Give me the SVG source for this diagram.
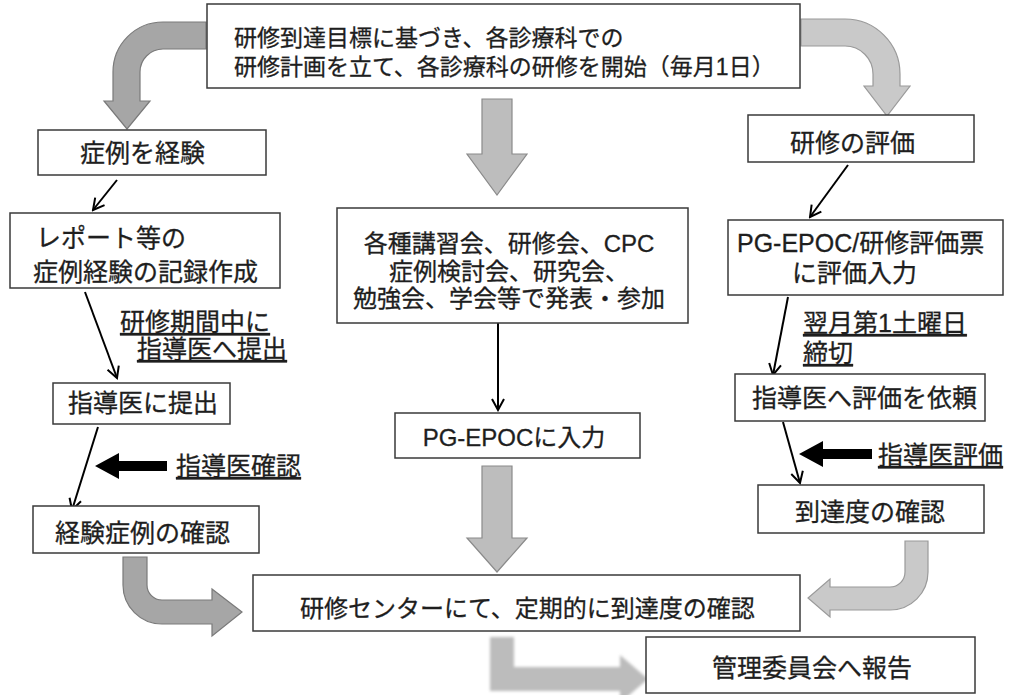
<svg xmlns="http://www.w3.org/2000/svg" width="1009" height="695" viewBox="0 0 1009 695">
<defs>
<style>
.box{fill:#fff;stroke:#3a3a3a;stroke-width:1.5}
.t{font-family:"Liberation Sans","Noto Sans CJK JP",sans-serif;fill:#1e1e1e;stroke:#1e1e1e;stroke-width:0.3}
.t23{font-size:23px}
.t24{font-size:24px}
.t25{font-size:25px}
.u{text-decoration:underline}
.line{fill:none;stroke:#000;stroke-width:2;marker-end:url(#open)}
.dark{fill:#a6a6a6;stroke:#7a7a7a;stroke-width:1.2}
.light{fill:#c9c9c9;stroke:#9a9a9a;stroke-width:1.2}
.mid{fill:#bdbdbd;stroke:#8a8a8a;stroke-width:1.2}
.black{fill:#000}
</style>
<marker id="open" viewBox="-13 -8 15 16" refX="0" refY="0" markerWidth="15" markerHeight="16" markerUnits="userSpaceOnUse" orient="auto">
<path d="M -11 -6 L 0 0 L -11 6" fill="none" stroke="#000" stroke-width="2"/>
</marker>
<filter id="soft" x="-10%" y="-10%" width="120%" height="120%">
<feGaussianBlur stdDeviation="1.6"/>
</filter>
</defs>

<g id="connectors">
<g id="block-arrows">
<path class="dark" d="M 206 22 H 163 A 50 50 0 0 0 113 72 V 101 H 104 L 127 129 L 150 101 H 140 V 72 A 23 23 0 0 1 163 49 H 206 Z"/>
<path class="light" d="M 801 19 H 845 A 55 55 0 0 1 900 74 V 86 H 910 L 887 116 L 864 86 H 873 V 74 A 28 28 0 0 0 845 46 H 801 Z"/>
<path class="mid" d="M 482 99 H 512 V 154 H 527 L 497 195 L 467 154 H 482 Z"/>
<path class="mid" d="M 482 466 H 512 V 538 H 527 L 497 572 L 467 538 H 482 Z"/>
<path class="dark" d="M 123 557 H 147 V 585 A 15 15 0 0 0 162 600 H 212 V 589 L 242 612 L 212 636 V 624 H 162 A 39 39 0 0 1 123 585 Z"/>
<path class="light" d="M 905 541 H 928 V 572 A 38 38 0 0 1 890 610 H 830 V 617 L 808 598 L 830 579 V 587 H 890 A 15 15 0 0 0 905 572 Z"/>
<path fill="#bcbcbc" filter="url(#soft)" d="M 490 637 H 514 V 667 H 620 V 655 L 648 679 L 620 703 V 691 H 490 Z"/>
</g>
<g id="thin-arrows">
<line class="line" x1="117" y1="180" x2="93" y2="210"/>
<line class="line" x1="85" y1="292" x2="117" y2="378"/>
<line class="line" x1="98" y1="427" x2="72" y2="510"/>
<line class="line" x1="498" y1="323" x2="498" y2="410"/>
<line class="line" x1="848" y1="165" x2="810" y2="217"/>
<line class="line" x1="788" y1="297" x2="773" y2="375"/>
<line class="line" x1="783" y1="422" x2="800" y2="483"/>
</g>
<g id="thick-arrows">
<path class="black" d="M 167 461 H 119 V 453 L 95 466 L 119 479 V 471 H 167 Z"/>
<path class="black" d="M 872 449 H 823 V 441 L 799 454 L 823 467 V 459 H 872 Z"/>
</g>
</g>

<g id="labels">
<text class="t t25 u" x="120" y="331">研修期間中に</text>
<text class="t t25 u" x="137" y="358">指導医へ提出</text>
<text class="t t25 u" x="176" y="475">指導医確認</text>
<text class="t t25 u" x="803" y="332">翌月第1土曜日</text>
<text class="t t25 u" x="803" y="362">締切</text>
<text class="t t25 u" x="878" y="464">指導医評価</text>
</g>

<g id="n-start">
<rect class="box" x="207" y="4" width="593" height="84"/>
<text class="t t23" x="234" y="46">研修到達目標に基づき、各診療科での</text>
<text class="t t23" x="234" y="75">研修計画を立て、各診療科の研修を開始（毎月1日）</text>
</g>

<g id="n-case">
<rect class="box" x="38" y="130" width="228" height="45"/>
<text class="t t25" x="80" y="162">症例を経験</text>
</g>

<g id="n-report">
<rect class="box" x="10" y="213" width="270" height="75"/>
<text class="t t25" x="36" y="247">レポート等の</text>
<text class="t t25" x="33" y="281">症例経験の記録作成</text>
</g>

<g id="n-submit">
<rect class="box" x="53" y="383" width="177" height="41"/>
<text class="t t25" x="68" y="412">指導医に提出</text>
</g>

<g id="n-confirm-case">
<rect class="box" x="33" y="506" width="226" height="47"/>
<text class="t t25" x="55" y="542">経験症例の確認</text>
</g>

<g id="n-lectures">
<rect class="box" x="337" y="208" width="351" height="115"/>
<text class="t t24" x="509" y="252" text-anchor="middle">各種講習会、研修会、CPC</text>
<text class="t t24" x="509" y="280" text-anchor="middle">症例検討会、研究会、</text>
<text class="t t24" x="509" y="307" text-anchor="middle">勉強会、学会等で発表・参加</text>
</g>

<g id="n-pgepoc">
<rect class="box" x="395" y="413" width="245" height="45"/>
<text class="t t24" x="514" y="446" text-anchor="middle">PG-EPOCに入力</text>
</g>

<g id="n-eval">
<rect class="box" x="748" y="115" width="226" height="47"/>
<text class="t t25" x="790" y="152">研修の評価</text>
</g>

<g id="n-eval-input">
<rect class="box" x="728" y="220" width="275" height="75"/>
<text class="t t25" x="737" y="252">PG-EPOC/研修評価票</text>
<text class="t t25" x="792" y="282">に評価入力</text>
</g>

<g id="n-request">
<rect class="box" x="735" y="374" width="250" height="47"/>
<text class="t t25" x="752" y="407">指導医へ評価を依頼</text>
</g>

<g id="n-achieve">
<rect class="box" x="758" y="485" width="226" height="48"/>
<text class="t t25" x="795" y="521">到達度の確認</text>
</g>

<g id="n-center">
<rect class="box" x="253" y="575" width="547" height="56"/>
<text class="t t24" x="300" y="617">研修センターにて、定期的に到達度の確認</text>
</g>

<g id="n-committee">
<rect class="box" x="646" y="637" width="329" height="56"/>
<text class="t t25" x="712" y="677">管理委員会へ報告</text>
</g>
</svg>
